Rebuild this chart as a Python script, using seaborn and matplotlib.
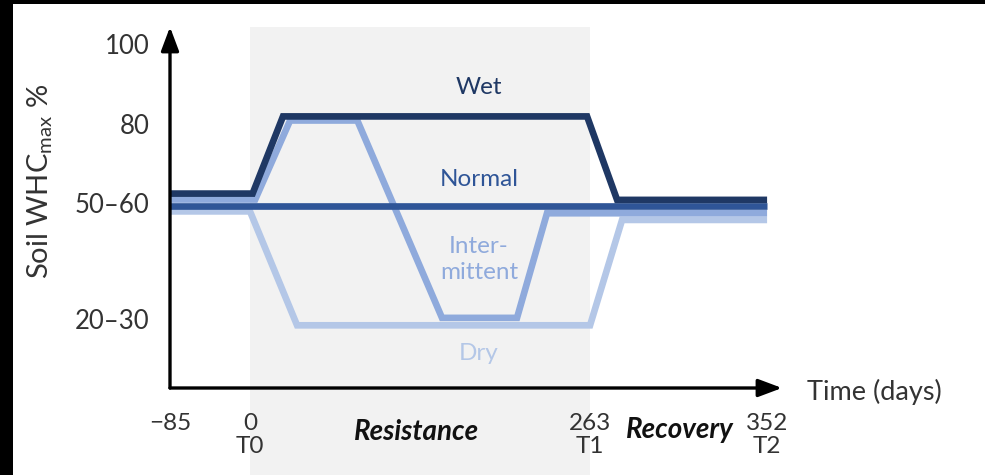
import numpy as np
import pandas as pd
import matplotlib.pyplot as plt
from matplotlib.patches import Rectangle, ArrowStyle
import seaborn as sns

# schematic soil water regimes (days vs % of WHCmax)
wet_days = [-85, 2, 25.5, 260.7, 276.6, 352]
wet_whc = [59.6, 59.6, 80.4, 80.4, 57.9, 57.9]

normal_days = [-85, 352]
normal_whc = [56.3, 56.3]

inter_days = [-85, 4, 31, 83, 148.5, 206.5, 229.7, 352]
inter_whc = [58.0, 58.0, 79.3, 79.3, 26.1, 26.1, 54.3, 54.3]

dry_days = [-85, 0, 36.4, 263, 279.1, 352]
dry_whc = [54.8, 54.8, 24.1, 24.1, 52.5, 52.5]

treatments = ["Dry", "Intermittent", "Normal", "Wet"]
colors = ["#b4c7e7", "#8faadc", "#2f5597", "#1f3864"]

xticks = [-85, 0, 263, 352]
xticklabels = ["\u221285", "0\nT0", "263\nT1", "352\nT2"]
yticks = [100, 78.4, 57.1, 25.8]
yticklabels = ["100", "80", "50\u201360", "20\u201330"]

df = pd.concat([
    pd.DataFrame({"day": dry_days, "whc": dry_whc, "treatment": "Dry"}),
    pd.DataFrame({"day": inter_days, "whc": inter_whc, "treatment": "Intermittent"}),
    pd.DataFrame({"day": normal_days, "whc": normal_whc, "treatment": "Normal"}),
    pd.DataFrame({"day": wet_days, "whc": wet_whc, "treatment": "Wet"}),
])

sns.set_theme(style="white")
plt.rcParams["font.family"] = ["Lato", "DejaVu Sans"]
plt.rcParams["mathtext.default"] = "regular"
plt.rcParams["lines.solid_capstyle"] = "butt"
plt.rcParams["lines.solid_joinstyle"] = "miter"

fig = plt.figure(figsize=(9.85, 4.75), dpi=100)
fig.patch.set_facecolor("white")
ax = fig.add_axes([170 / 985, 87 / 475, 612 / 985, 361 / 475])
ax.set_facecolor("none")

# time axis is not to scale in the original -> piecewise mapping
knots_d = [-200, -85, 0, 263, 352, 500]
knots_p = [61.8, 170, 250, 590, 767, 1061.3]
fwd = lambda d: np.interp(d, knots_d, knots_p)
inv = lambda p: np.interp(p, knots_p, knots_d)
ax.set_xscale("function", functions=(fwd, inv))
ax.set_xlim(-85, 359.5)
ax.set_ylim(7.2, 104.5)

ax.axvspan(0, 263, ymin=-0.241, ymax=1, color="#f2f2f2", zorder=0, clip_on=False, lw=0)

sns.lineplot(data=df, x="day", y="whc", hue="treatment", hue_order=treatments,
             palette=colors, lw=4.8, legend=False, estimator=None, sort=False, ax=ax)

for s in ax.spines.values():
    s.set_visible(False)

astyle = ArrowStyle("-|>", head_length=0.8, head_width=0.3)
for tip in [(0, 1), (1, 0)]:
    ax.annotate("", xy=tip, xytext=(0, 0), xycoords="axes fraction",
                arrowprops=dict(arrowstyle=astyle, lw=2.4, color="black",
                                mutation_scale=18, shrinkA=0, shrinkB=0))

ax.set_xticks(xticks, labels=xticklabels)
ax.set_yticks(yticks, labels=yticklabels)
ax.tick_params(axis="x", length=0, pad=18, labelsize=17.5, labelcolor="#333333")
ax.tick_params(axis="y", length=0, pad=15, labelsize=18.5, labelcolor="#333333")
for lab in ax.get_xticklabels():
    lab.set_linespacing(1.1)
ax.set_xlabel("")
ax.set_ylabel("")

ax.text(177, 88.1, "Wet", color="#1f3864", fontsize=17.5, ha="center", va="center")
ax.text(177, 63.3, "Normal", color="#2f5597", fontsize=17.5, ha="center", va="center")
ax.text(177, 41.8, "Inter-\nmittent", color="#8faadc", fontsize=17.5, ha="center",
        va="center", linespacing=1.3)
ax.text(177, 16.6, "Dry", color="#b4c7e7", fontsize=17.5, ha="center", va="center")

ax.text(129, -4.7, "Resistance", fontsize=20, style="italic", weight="bold",
        color="#111111", ha="center", va="center", clip_on=False)
ax.text(308, -4.1, "Recovery", fontsize=20, style="italic", weight="bold",
        color="#111111", ha="center", va="center", clip_on=False)
ax.text(1.041, -0.011, "Time (days)", transform=ax.transAxes, fontsize=19.5,
        color="#333333", ha="left", va="center")

fig.text(40 / 985, 1 - 181 / 475, "Soil WHC$_{max}$ %", rotation=90, fontsize=21,
         color="#333333", ha="center", va="center")

# black frame strips seen in the reference
fig.add_artist(Rectangle((0, 0), 13 / 985, 1, transform=fig.transFigure, color="black", lw=0))
fig.add_artist(Rectangle((0, 1 - 4 / 475), 1, 4 / 475, transform=fig.transFigure, color="black", lw=0))

fig.savefig("out.png", dpi=100)
